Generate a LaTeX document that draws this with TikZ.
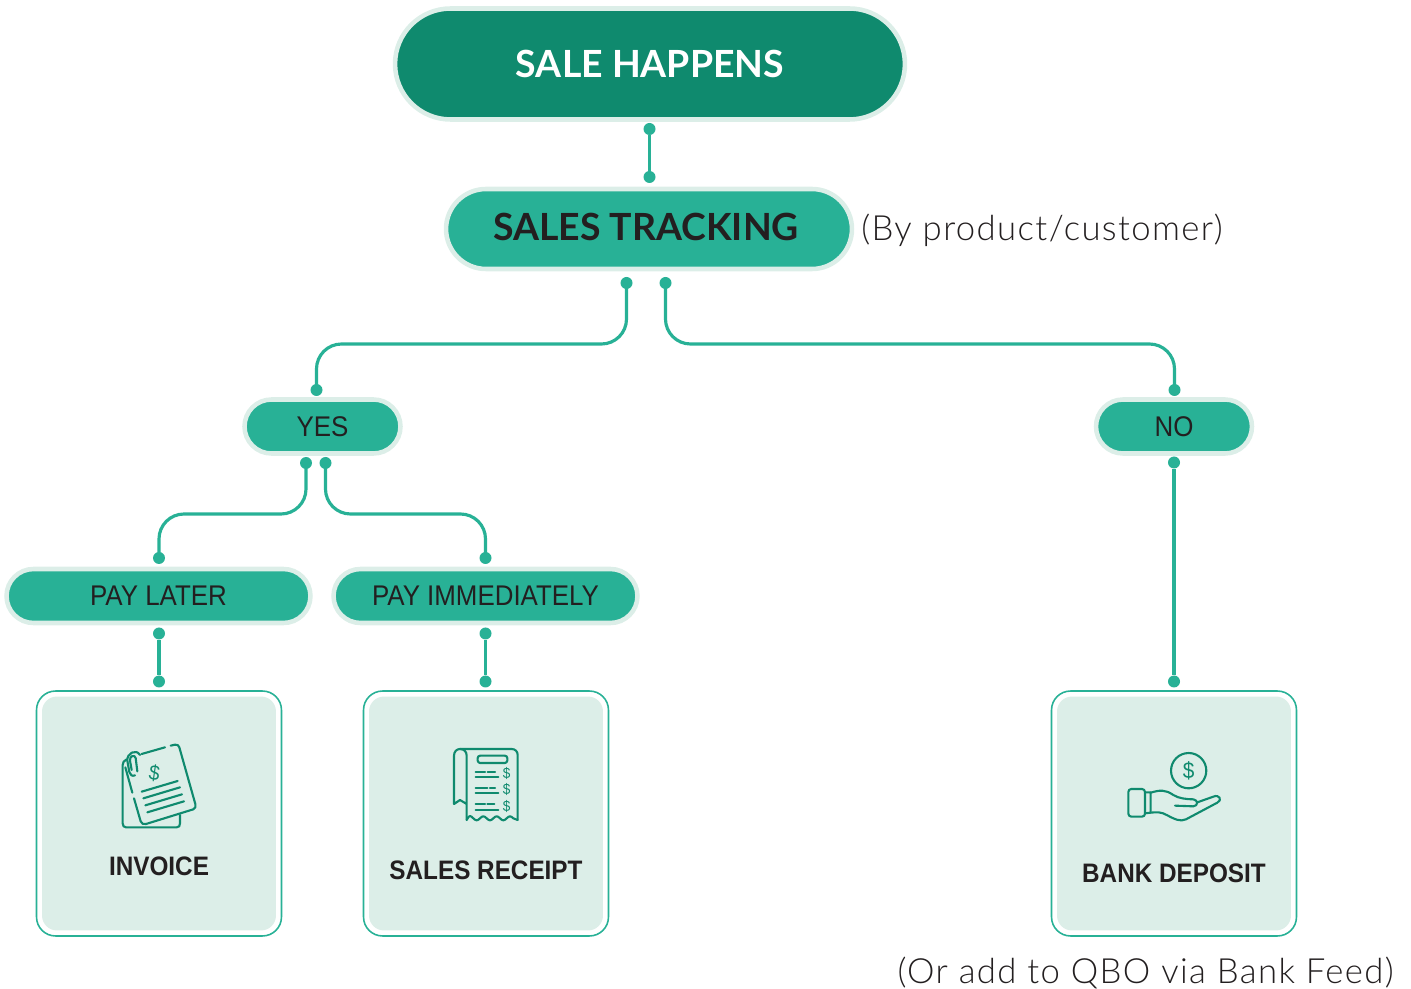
\documentclass[tikz,border=0pt]{standalone}
\usepackage{fontspec}
\setmainfont{Lato}
\newfontfamily\labelfont[FakeStretch=0.91]{Liberation Sans}
\newfontfamily\boxfont[FakeStretch=0.91]{Liberation Sans Bold}
\newfontfamily\notefont[LetterSpace=4]{Lato Light}
\usetikzlibrary{shapes.misc}
\definecolor{darkteal}{HTML}{0F8A6E}
\definecolor{teal}{HTML}{28B196}
\definecolor{pale}{HTML}{DCEEE8}
\definecolor{ink}{HTML}{231F20}
\tikzset{
    pill/.style={rounded rectangle,draw=pale,line width=2.6pt,fill=teal,text=ink,inner sep=0pt},
    smallpill/.style={pill,minimum height=1.08cm,font=\labelfont\fontsize{16.2}{16.2}\selectfont},
    dot/.style={circle,fill=teal,inner sep=0pt,minimum size=0.24cm},
    wire/.style={teal,line width=1.8pt},
    frame/.style={rectangle,draw=teal,line width=0.9pt,fill=white,rounded corners=0.38cm,minimum size=4.9cm},
    panel/.style={rectangle,fill=pale,rounded corners=0.3cm,minimum size=4.68cm},
    boxlabel/.style={text=ink,inner sep=0pt,font=\boxfont\fontsize{15.2}{15.2}\selectfont},
    note/.style={text=ink,inner sep=0pt,font=\notefont\fontsize{19.75}{19.75}\selectfont},
    icon/.style={darkteal,line width=1.2pt,line cap=round,line join=round},
    money/.style={text=darkteal,inner sep=0pt,font=\labelfont\fontsize{8.5}{8.5}\selectfont}
}
\begin{document}
\begin{tikzpicture}[x=0.02cm,y=-0.02cm]
    \useasboundingbox (0,0) rectangle (1411,989);
    % pills
    \node[pill,fill=darkteal,text=white,minimum width=10.2cm,minimum height=2.22cm,font=\fontsize{21.3}{21.3}\selectfont\bfseries] (sale) at (650,64) {SALE HAPPENS};
    \node[pill,minimum width=8.12cm,minimum height=1.6cm] (tracking) at (649,229) {};
    \node[text=ink,inner sep=0pt,font=\fontsize{21.3}{21.3}\selectfont\bfseries] (trackingtext) at (646,227) {SALES TRACKING};
    \node[smallpill,minimum width=3.12cm] (yes) at (322.5,426.5) {YES};
    \node[smallpill,minimum width=3.12cm] (no) at (1174,426.5) {NO};
    \node[smallpill,minimum width=6.08cm] (later) at (158.5,596) {PAY LATER};
    \node[smallpill,minimum width=6.08cm] (immediately) at (485.5,596) {PAY IMMEDIATELY};
    \node[note,anchor=west] (bynote) at (861,230) {(By product/customer)};
    % boxes
    \node[frame] (invoiceframe) at (159,813.5) {};
    \node[frame] (receiptframe) at (486,813.5) {};
    \node[frame] (depositframe) at (1174,813.5) {};
    \node[panel] (invoicebox) at (159,813.5) {};
    \node[panel] (receiptbox) at (486,813.5) {};
    \node[panel] (depositbox) at (1174,813.5) {};
    \node[boxlabel] (invoicetext) at (159,866) {INVOICE};
    \node[boxlabel] (receipttext) at (486,870) {SALES RECEIPT};
    \node[boxlabel] (deposittext) at (1174,873) {BANK DEPOSIT};
    \node[note,anchor=east] (qbonote) at (1394,973) {(Or add to QBO via Bank Feed)};
    % connector ends
    \node[dot] (saleout) at (649.5,129) {};
    \node[dot] (trackingin) at (649.5,177) {};
    \node[dot] (trackingyes) at (626.5,283) {};
    \node[dot] (trackingno) at (665.5,283) {};
    \node[dot] (yesin) at (316.5,390) {};
    \node[dot] (noin) at (1174.5,390) {};
    \node[dot] (yeslater) at (306,463) {};
    \node[dot] (yesnow) at (325.5,463) {};
    \node[dot] (laterin) at (159,558) {};
    \node[dot] (nowin) at (485.5,558) {};
    \node[dot] (laterout) at (159,633.5) {};
    \node[dot] (invoicein) at (159,681.5) {};
    \node[dot] (nowout) at (485.5,633.5) {};
    \node[dot] (receiptin) at (485.5,681.5) {};
    \node[dot] (noout) at (1174,462.5) {};
    \node[dot] (depositin) at (1174,681.5) {};
    \coordinate (upper) at (0,344);
    \coordinate (lower) at (0,514);
    % connectors
    \draw[wire] (saleout) -- (trackingin);
    \draw[wire,rounded corners=0.5cm] (trackingyes.center) -- (trackingyes.center |- upper) -- (yesin.center |- upper) -- (yesin.center);
    \draw[wire,rounded corners=0.5cm] (trackingno.center) -- (trackingno.center |- upper) -- (noin.center |- upper) -- (noin.center);
    \draw[wire,rounded corners=0.5cm] (yeslater.center) -- (yeslater.center |- lower) -- (laterin.center |- lower) -- (laterin.center);
    \draw[wire,rounded corners=0.5cm] (yesnow.center) -- (yesnow.center |- lower) -- (nowin.center |- lower) -- (nowin.center);
    \draw[wire] (laterout) -- (invoicein);
    \draw[wire] (nowout) -- (receiptin);
    \draw[wire] (noout) -- (depositin);
    % invoice icon
    \begin{scope}[shift={(100,730)},x=0.00667cm,y=-0.00667cm,icon]
        \draw (80,88) .. controls (72,92) and (68,97) .. (68,105) -- (68,280) .. controls (68,288) and (72,292) .. (78,292) -- (230,292) .. controls (237,292) and (240,288) .. (240,280) -- (240,255);
        \draw (125,72) -- (195,52);
        \draw (212,47) -- (225,44) .. controls (232,43) and (236,46) .. (238,52) -- (286,222) .. controls (288,230) and (286,235) .. (280,238) -- (138,282) .. controls (130,284) and (125,281) .. (122,274) -- (102,205);
        \draw (97,188) -- (76,112);
        \draw (105,136) .. controls (96,140) and (90,134) .. (88,126) -- (82,92) .. controls (80,70) and (108,55) .. (120,75);
        \draw (95,120) -- (90,92) .. controls (88,78) and (104,72) .. (107,84) -- (112,124);
        \draw (125,185) -- (233,153);
        \draw (130,205) -- (240,172);
        \draw (136,226) -- (246,193);
        \draw (142,247) -- (252,214);
        \node[money,rotate=-8,font=\labelfont\fontsize{12}{12}\selectfont] (invoicemoney) at (163,130) {\$};
    \end{scope}
    % receipt icon
    \begin{scope}[shift={(430,735)},x=0.00667cm,y=-0.00667cm,icon]
        \draw (110,255) -- (110,62) .. controls (110,50) and (102,42) .. (90,42) .. controls (80,42) and (72,50) .. (72,62) -- (72,207) -- (90,195) -- (110,207);
        \draw (90,42) -- (245,42) .. controls (256,42) and (263,50) .. (263,60) -- (263,255);
        \draw (110,255) .. controls (118,238) and (122,242) .. (130,250) .. controls (138,258) and (142,258) .. (150,250) .. controls (158,242) and (162,242) .. (170,250) .. controls (178,258) and (182,258) .. (190,250) .. controls (198,242) and (202,242) .. (210,250) .. controls (218,258) and (222,258) .. (230,250) .. controls (238,242) and (242,242) .. (250,250) -- (263,255);
        \draw[rounded corners=0.05cm] (143,62) rectangle (232,84);
        \draw (137,110) -- (165,110) (173,110) -- (195,110) (137,127) -- (205,127);
        \draw (137,158) -- (172,158) (180,158) -- (195,158) (137,175) -- (205,175);
        \draw (137,208) -- (165,208) (172,208) -- (193,208) (137,225) -- (205,225);
        \node[money] (receiptmoneya) at (230,115) {\$};
        \node[money] (receiptmoneyb) at (230,163) {\$};
        \node[money] (receiptmoneyc) at (230,213) {\$};
    \end{scope}
    % hand icon
    \begin{scope}[shift={(1110,740)},x=0.00667cm,y=-0.00667cm,icon]
        \draw (236,92) circle[radius=0.353cm];
        \node[money,font=\labelfont\fontsize{13}{13}\selectfont] (depositmoney) at (236,92) {\$};
        \draw[rounded corners=0.06cm] (55,147) rectangle (105,230);
        \draw (105,157) -- (122,157) -- (122,218) -- (105,220);
        \draw (122,158) .. controls (150,150) and (165,148) .. (190,165) .. controls (205,175) and (230,178) .. (250,178) .. controls (265,180) and (265,198) .. (250,199) -- (195,197);
        \draw (262,187) -- (310,170) .. controls (328,162) and (338,180) .. (322,188) -- (228,238) .. controls (210,246) and (195,238) .. (170,225) .. controls (155,216) and (140,216) .. (122,218);
    \end{scope}
\end{tikzpicture}
\end{document}
